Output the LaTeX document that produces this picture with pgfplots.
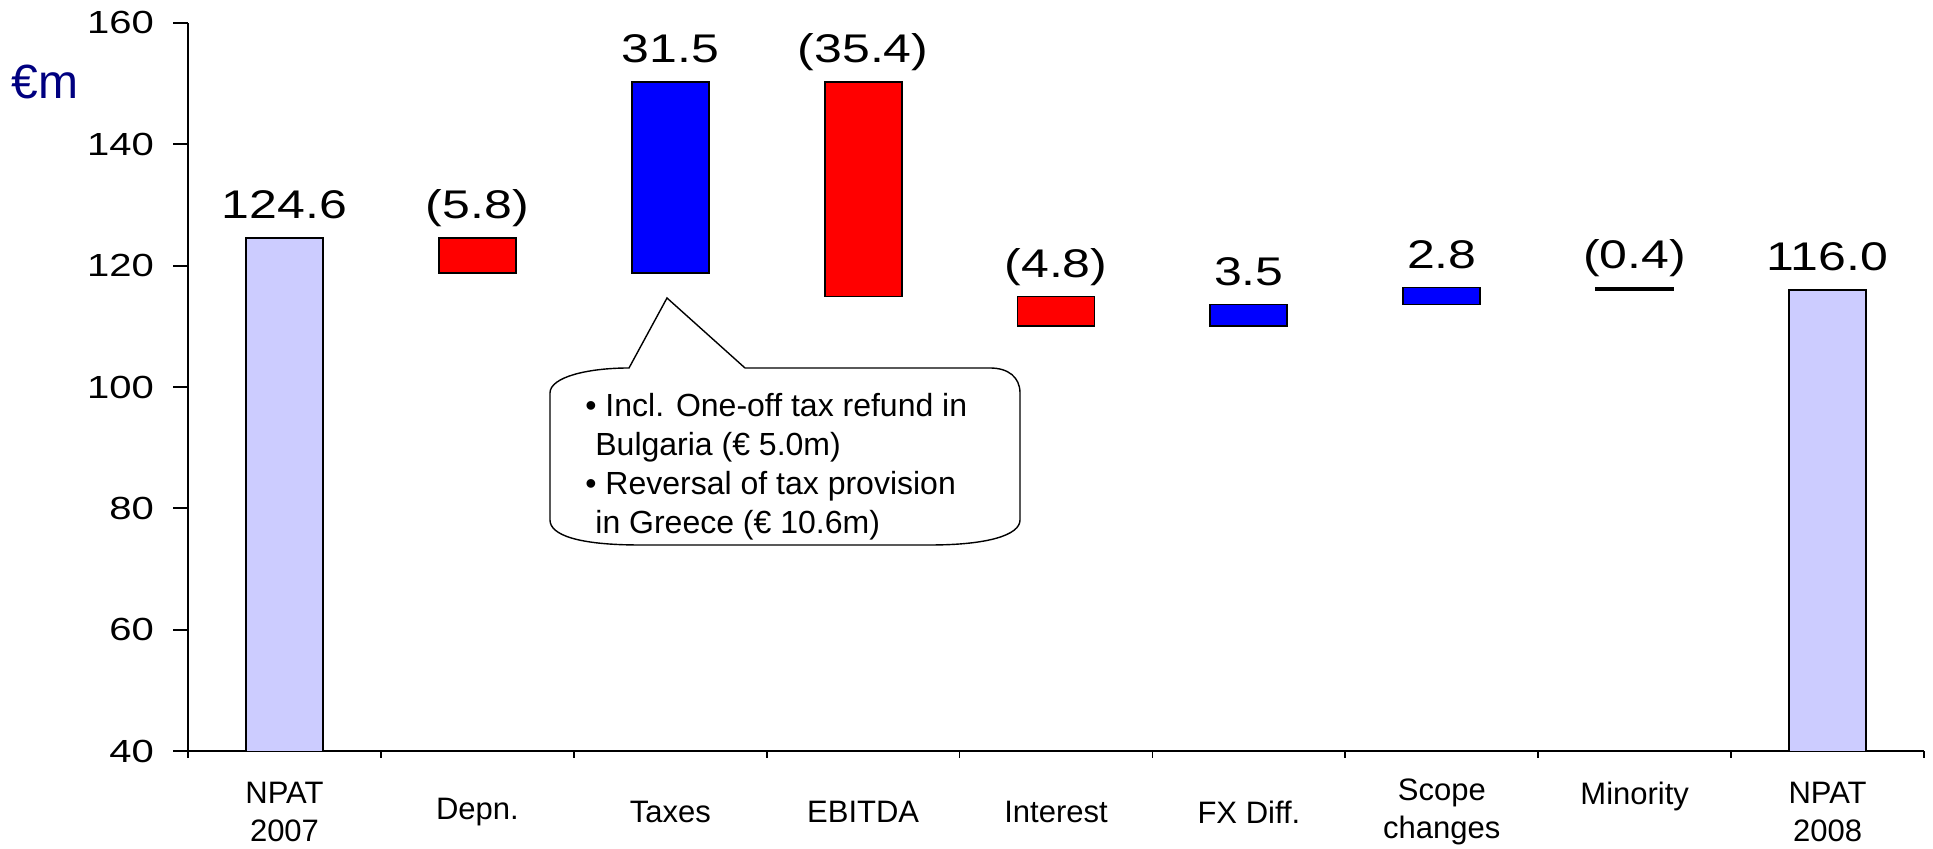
\documentclass[border=0pt]{standalone}
\usepackage{pgfplots}
\pgfplotsset{compat=1.18}
\usepackage{fontspec}
\setmainfont{Liberation Sans}
\newfontfamily\widefont[FakeStretch=1.25]{Liberation Sans}

\definecolor{npat}{RGB}{204,204,255}
\definecolor{navy}{RGB}{0,0,128}

\pgfplotsset{wf frame/.style={
  at={(0,0)}, anchor=south west,
  scale only axis, width=868pt, height=364pt,
  xmin=-0.5, xmax=8.5, ymin=40, ymax=160,
  enlargelimits=false}}

\begin{document}
\begin{tikzpicture}
\path[use as bounding box] (-94pt,-49pt) rectangle (872.5pt,375.5pt);
\begin{axis}[
  wf frame,
  ybar stacked, bar width=38.5pt,
  axis x line*=bottom, axis y line*=left,
  axis line style={line width=0.9pt},
  tick align=outside,
  major tick length=7.5pt,
  tick style={black, line width=0.9pt},
  ytick={40,60,...,160},
  xtick={-0.5,0.5,...,8.5},
  xtick style={/pgfplots/major tick length=3.5pt},
  xticklabels={{NPAT\\2007},Depn.,Taxes,EBITDA,Interest,{FX Diff.},{Scope\\changes},{Minority\\\mbox{}},{NPAT\\2008},{}},
  xticklabel style={align=center, anchor=center, xshift=48.25pt, yshift=-23pt,
    font=\fontsize{15.5}{19}\selectfont},
  yticklabel style={font=\widefont\fontsize{16}{19}\selectfont, xshift=-6pt},
  /pgf/number format/assume math mode=true,
]
% invisible base of each floating bar
\addplot[draw=none, fill=none] coordinates {
  (0,0) (1,118.8) (2,118.8) (3,114.9) (4,110.1) (5,110.1) (6,113.6) (7,116.0) (8,0)};
% decreases
\addplot[fill=red, draw=black, line width=0.9pt] coordinates {
  (0,0) (1,5.8) (2,0) (3,35.4) (4,4.8) (5,0) (6,0) (7,0) (8,0)};
% increases
\addplot[fill=blue, draw=black, line width=0.9pt] coordinates {
  (0,0) (1,0) (2,31.5) (3,0) (4,0) (5,3.5) (6,2.8) (7,0) (8,0)};
% minority
\addplot[fill=black, draw=black, line width=0.9pt] coordinates {
  (0,0) (1,0) (2,0) (3,0) (4,0) (5,0) (6,0) (7,0.4) (8,0)};
% NPAT totals
\addplot[fill=npat, draw=black, line width=0.9pt] coordinates {
  (0,124.6) (1,0) (2,0) (3,0) (4,0) (5,0) (6,0) (7,0) (8,116.0)};
\end{axis}

% same frame again, no axis lines: the value label above each bar
\begin{axis}[wf frame, axis lines=none, clip=false]
\addplot[only marks, mark=none, nodes near coords, point meta=explicit symbolic,
  every node near coord/.style={font=\widefont\fontsize{20}{24}\selectfont,
    anchor=base, yshift=9.5pt, text=black}] coordinates {
  (0,124.6) [124.6] (1,124.6) [{(5.8)}] (2,150.3) [31.5] (3,150.3) [{(35.4)}]
  (4,114.9) [{(4.8)}] (5,113.6) [3.5] (6,116.4) [2.8] (7,116.4) [{(0.4)}] (8,116.0) [116.0]};
\end{axis}

\node[font=\fontsize{24}{28}\selectfont, text=navy] at (-71.5pt,334.5pt) {€m};

% callout
\draw[fill=white, line width=0.7pt]
  (220.5pt,191.5pt) -- (239.5pt,226.5pt) -- (278.5pt,191.5pt) -- (401pt,191.5pt)
  .. controls (410pt,191.5pt) and (416pt,187pt) .. (416pt,179pt) -- (416pt,115.5pt)
  .. controls (416pt,108pt) and (400pt,103pt) .. (371pt,103pt) -- (226pt,103pt)
  .. controls (195pt,103pt) and (181pt,108pt) .. (181pt,115.5pt) -- (181pt,179pt)
  .. controls (181pt,187pt) and (200pt,191.5pt) .. cycle;
\node[anchor=north west, inner sep=0pt, align=left, font=\fontsize{16}{19.5}\selectfont]
  at (198.5pt,179pt) {• Incl. One-off tax refund in\\\hspace{5pt}Bulgaria (€ 5.0m)\\• Reversal of tax provision\\\hspace{5pt}in Greece (€ 10.6m)};
\end{tikzpicture}
\end{document}
